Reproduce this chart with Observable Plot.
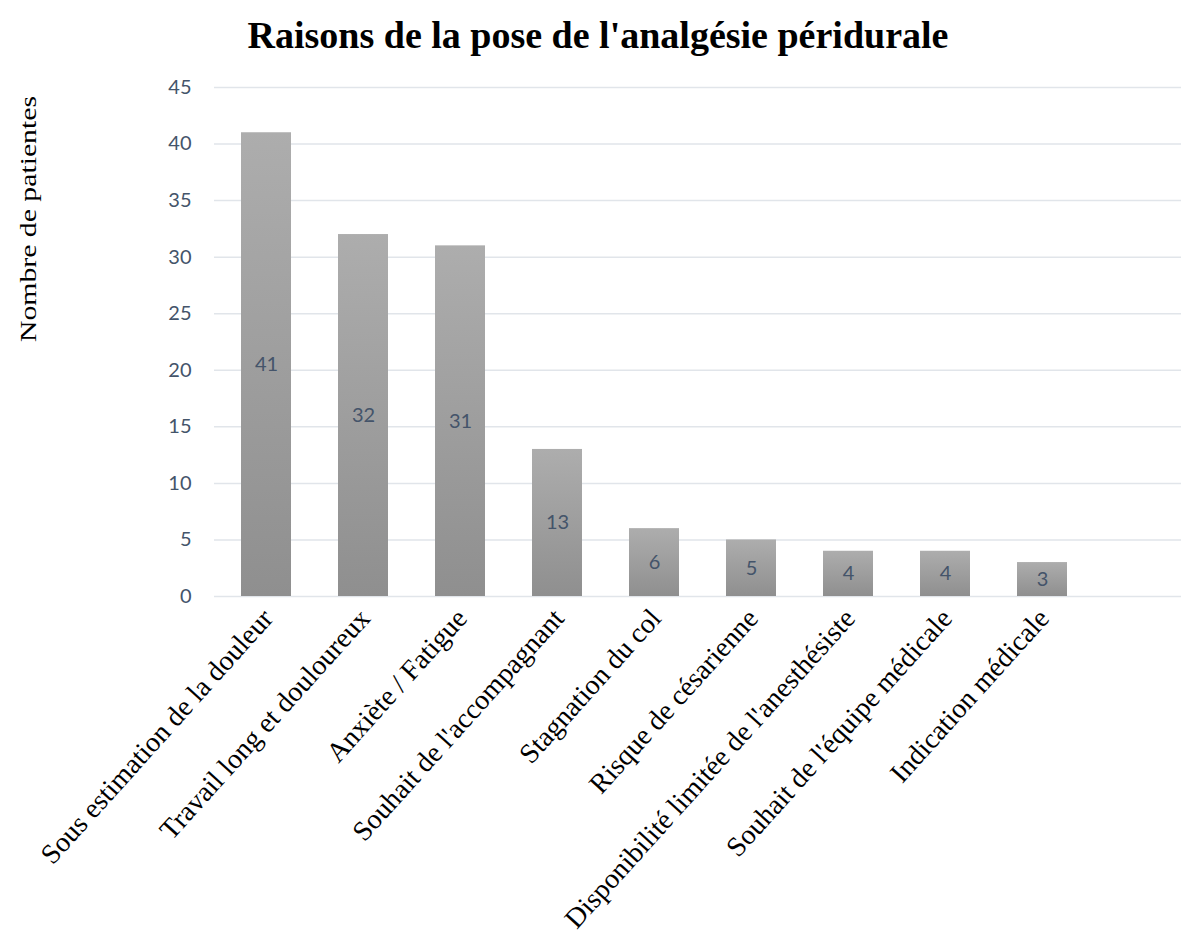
<!DOCTYPE html>
<html>
<head>
<meta charset="utf-8">
<script src="https://cdn.jsdelivr.net/npm/d3@7"></script>
<script src="https://cdn.jsdelivr.net/npm/@observablehq/plot@0.6"></script>
<style>
  html, body { margin: 0; padding: 0; background: #fff; }
</style>
</head>
<body>
<div id="chart"></div>
<script>
const title = "Raisons de la pose de l'analgésie péridurale";
const yLabel = "Nombre de patientes";
const categories = [
  "Sous estimation de la douleur",
  "Travail long et douloureux",
  "Anxiète / Fatigue",
  "Souhait de l'accompagnant",
  "Stagnation du col",
  "Risque de césarienne",
  "Disponibilité limitée de l'anesthésiste",
  "Souhait de l'équipe médicale",
  "Indication médicale"
];
const values = [41, 32, 31, 13, 6, 5, 4, 4, 3];
const yTicks = [0, 5, 10, 15, 20, 25, 30, 35, 40, 45];

const data = categories.map((c, i) => ({cat: c, val: values[i]}));

const chart = Plot.plot({
  width: 1181,
  height: 942,
  marginLeft: 214,
  marginRight: 0,
  marginTop: 87,
  marginBottom: 346,
  style: {background: "white", fontFamily: "Lato", fontSize: "19px", overflow: "visible"},
  x: {domain: categories, range: [214, 1093], paddingInner: 0.488, paddingOuter: 0.244, axis: null},
  y: {domain: [0, 45], axis: null},
  marks: [
    Plot.ruleY(yTicks, {stroke: "#e1e5ea", strokeWidth: 1.5}),
    Plot.barY(data, {x: "cat", y: "val", fill: "url(#barGrad)"}),
    Plot.text(data, {x: "cat", y: d => d.val / 2, text: d => String(d.val), fill: "#44546A", fontSize: 20, fontFamily: "Lato"}),
    Plot.axisY({ticks: yTicks, tickSize: 0, tickPadding: 23, fontSize: 20, color: "#44546A", label: null}),
    Plot.text(categories, {x: d => d, frameAnchor: "bottom", rotate: -48, textAnchor: "end", dx: 8, dy: 23,
      fontSize: 28, fontFamily: "Liberation Serif", fill: "black"}),
    Plot.text([yLabel], {frameAnchor: "left", dx: -186, rotate: -90, fontSize: 24, fontFamily: "Liberation Serif", fill: "black", className: "ylab"}),
    Plot.text([title], {frameAnchor: "top", dx: -100, dy: -66, fontSize: 38, fontWeight: "bold", fontFamily: "Liberation Serif", fill: "black"})
  ]
});

const defs = d3.select(chart).insert("defs", ":first-child");
const grad = defs.append("linearGradient").attr("id", "barGrad").attr("x1", 0).attr("y1", 0).attr("x2", 0).attr("y2", 1);
grad.append("stop").attr("offset", "0%").attr("stop-color", "#adadad");
grad.append("stop").attr("offset", "100%").attr("stop-color", "#8f8f8f");

// stretch the axis label along its baseline to match the reference's proportions
d3.select(chart).selectAll(".ylab text").attr("textLength", 246).attr("lengthAdjust", "spacingAndGlyphs");

document.getElementById("chart").appendChild(chart);
</script>
</body>
</html>
